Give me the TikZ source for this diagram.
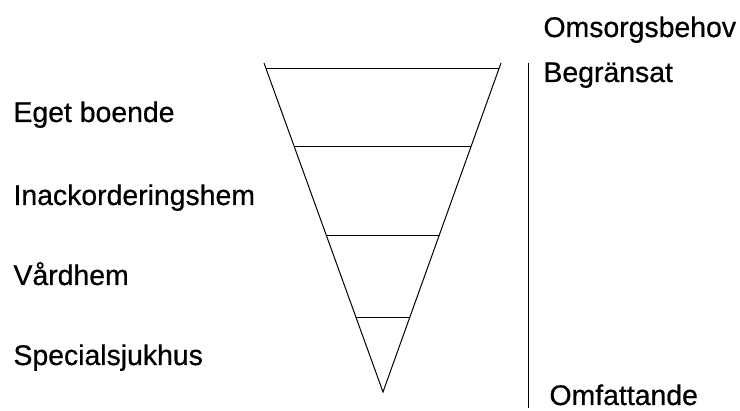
\documentclass[tikz,border=0pt]{standalone}
\usepackage{fontspec}
\setmainfont[FakeBold=0.6]{Liberation Sans}
\usepackage{tikz}
\usetikzlibrary{calc}

\begin{document}
\begin{tikzpicture}[x=0.5pt, y=-0.5pt, line width=0.5pt,
    font=\fontsize{14.2}{16}\selectfont,
    lbl/.style={anchor=base west, inner sep=0pt}]
  \useasboundingbox (0,0) rectangle (740,411);
  % tratten
  \coordinate (tl) at (264,63);
  \coordinate (tr) at (501,63);
  \coordinate (spets) at (383,392);
  \draw (tl) -- (spets) -- (tr);
  \foreach \y in {69,147,236,318}
    \draw ($(tl)!{(\y-63)/329}!(spets)$) -- ($(tr)!{(\y-63)/329}!(spets)$);
  % skala
  \coordinate (skalatopp) at (528,63);
  \coordinate (skalabotten) at (528,408);
  \draw (skalatopp) -- (skalabotten);
  \node[lbl] (eget)  at (13,122) {Eget boende};
  \node[lbl] (inack) at (13,205) {Inackorderingshem};
  \node[lbl] (vard)  at (13,285) {Vårdhem};
  \node[lbl] (spec)  at (13,365) {Specialsjukhus};
  \node[lbl] (behov) at (543,37) {Omsorgsbehov};
  \node[lbl] (begr)  at (543,82) {Begränsat};
  \node[lbl] (omf)   at (549,405) {Omfattande};
\end{tikzpicture}
\end{document}
